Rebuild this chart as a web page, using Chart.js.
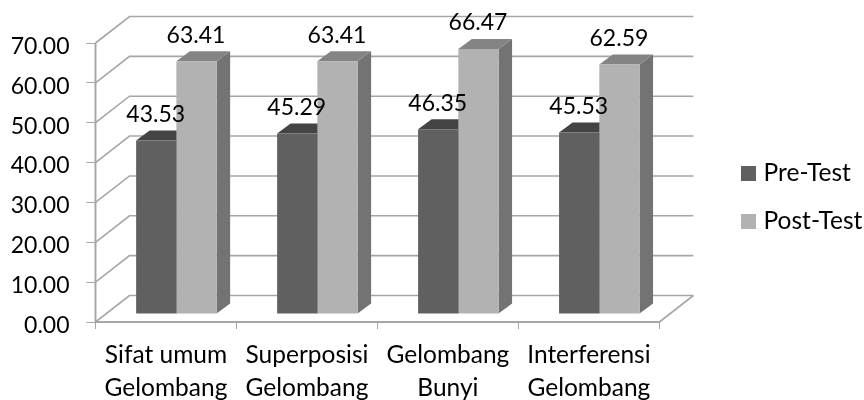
<!DOCTYPE html>
<html>
<head>
<meta charset="utf-8">
<style>html,body{margin:0;padding:0;background:#fff}canvas{display:block}</style>
<script src="https://cdn.jsdelivr.net/npm/chart.js@4"></script>
</head>
<body>
<canvas id="c" width="864" height="400"></canvas>
<script>
const categories = [["Sifat umum","Gelombang"],["Superposisi","Gelombang"],["Gelombang","Bunyi"],["Interferensi","Gelombang"]];
const preTest = [43.53,45.29,46.35,45.53];
const postTest = [63.41,63.41,66.47,62.59];
const FONT = "Lato";
const FS_NUM = 23;
const FS_TXT = 24.5;
const GRID = "#a6a6a6";
const WALL = {dx:34, dy:-26.5};
const BAR_OFF = {dx:10.4, dy:-8};
const BAR_DEPTH = {dx:13.5, dy:-10};
const FACES = [{top:"#444444", side:"#3c3c3c"},{top:"#848484", side:"#737373"}];
const LEGEND_X = 745.7;
const LEGEND_SHIFT_Y = -24;
const PAD_R = 54.5;

const threeD = {
  id:"threeD",
  afterLayout(chart){
    const l = chart.legend;
    const w = l.right - l.left;
    const pad = chart.options.plugins.legend.labels.padding;
    l.left = LEGEND_X - pad; l.right = l.left + w;
    l.top += LEGEND_SHIFT_Y; l.bottom += LEGEND_SHIFT_Y;
  },
  beforeDatasetsDraw(chart){
    const {ctx, scales:{x,y}} = chart;
    ctx.save();
    ctx.strokeStyle = GRID; ctx.lineWidth = 1.6;
    const L = x.left, R = x.right;
    y.ticks.forEach((t,i)=>{
      const py = y.getPixelForTick(i);
      ctx.beginPath();
      ctx.moveTo(L,py);
      ctx.lineTo(L+WALL.dx,py+WALL.dy);
      ctx.lineTo(R+WALL.dx,py+WALL.dy);
      ctx.stroke();
    });
    const y0 = y.getPixelForValue(0);
    ctx.beginPath(); ctx.moveTo(R,y0); ctx.lineTo(R+WALL.dx,y0+WALL.dy); ctx.stroke();
    ctx.lineWidth = 1.9;
    ctx.beginPath(); ctx.moveTo(L,y.top); ctx.lineTo(L,y0); ctx.lineTo(R,y0); ctx.stroke();
    ctx.translate(BAR_OFF.dx,BAR_OFF.dy);
    chart.data.datasets.forEach((d,di)=>{
      chart.getDatasetMeta(di).data.forEach(b=>{
        const xl=b.x-b.width/2, xr=b.x+b.width/2, yt=b.y, yb=b.base;
        const dx=BAR_DEPTH.dx, dy=BAR_DEPTH.dy;
        ctx.fillStyle=FACES[di].side;
        ctx.beginPath();ctx.moveTo(xr,yt);ctx.lineTo(xr+dx,yt+dy);ctx.lineTo(xr+dx,yb+dy);ctx.lineTo(xr,yb);ctx.closePath();ctx.fill();
        ctx.fillStyle=FACES[di].top;
        ctx.beginPath();ctx.moveTo(xl,yt);ctx.lineTo(xl+dx,yt+dy);ctx.lineTo(xr+dx,yt+dy);ctx.lineTo(xr,yt);ctx.closePath();ctx.fill();
      });
    });
    ctx.restore();
    ctx.save();
    ctx.translate(BAR_OFF.dx,BAR_OFF.dy);
  },
  afterDatasetsDraw(chart){
    const {ctx} = chart;
    ctx.restore();
    ctx.save();
    ctx.fillStyle="#000";
    ctx.font=FS_NUM+"px "+FONT;
    ctx.textAlign="center";ctx.textBaseline="middle";
    chart.data.datasets.forEach((d,di)=>{
      chart.getDatasetMeta(di).data.forEach((b,i)=>{
        ctx.fillText(d.data[i].toFixed(2), b.x+BAR_OFF.dx-0.5, b.y+BAR_OFF.dy-26);
      });
    });
    ctx.restore();
  }
};

new Chart(document.getElementById("c"),{
  type:"bar",
  data:{labels:categories,datasets:[
    {label:"Pre-Test",data:preTest,backgroundColor:"#606060"},
    {label:"Post-Test",data:postTest,backgroundColor:"#b2b2b2"}
  ]},
  options:{
    responsive:false,animation:false,
    layout:{padding:{top:43,right:PAD_R,bottom:0,left:0}},
    categoryPercentage:0.571,barPercentage:1,
    scales:{
      x:{
        grid:{display:true,drawOnChartArea:false,drawTicks:true,tickLength:7,tickColor:GRID,lineWidth:1},
        border:{display:false},
        ticks:{color:"#000",font:{family:FONT,size:FS_TXT,lineHeight:1.33},padding:10,maxRotation:0,autoSkip:false},
        afterFit(s){s.height=78;}
      },
      y:{
        min:0,max:70,
        grid:{display:true,drawOnChartArea:false,drawTicks:true,tickLength:9,tickColor:GRID,lineWidth:1},
        border:{display:false},
        ticks:{color:"#000",stepSize:10,labelOffset:3.5,font:{family:FONT,size:FS_NUM},padding:17,callback:v=>Number(v).toFixed(2)},
        afterFit(s){s.width=95.5;}
      }
    },
    plugins:{
      legend:{position:"right",align:"center",
        labels:{usePointStyle:true,pointStyle:"rect",boxWidth:5.6,boxHeight:15,padding:23.5,color:"#000",font:{family:FONT,size:FS_TXT}}},
      tooltip:{enabled:false}
    }
  },
  plugins:[threeD]
});
</script>
</body>
</html>
